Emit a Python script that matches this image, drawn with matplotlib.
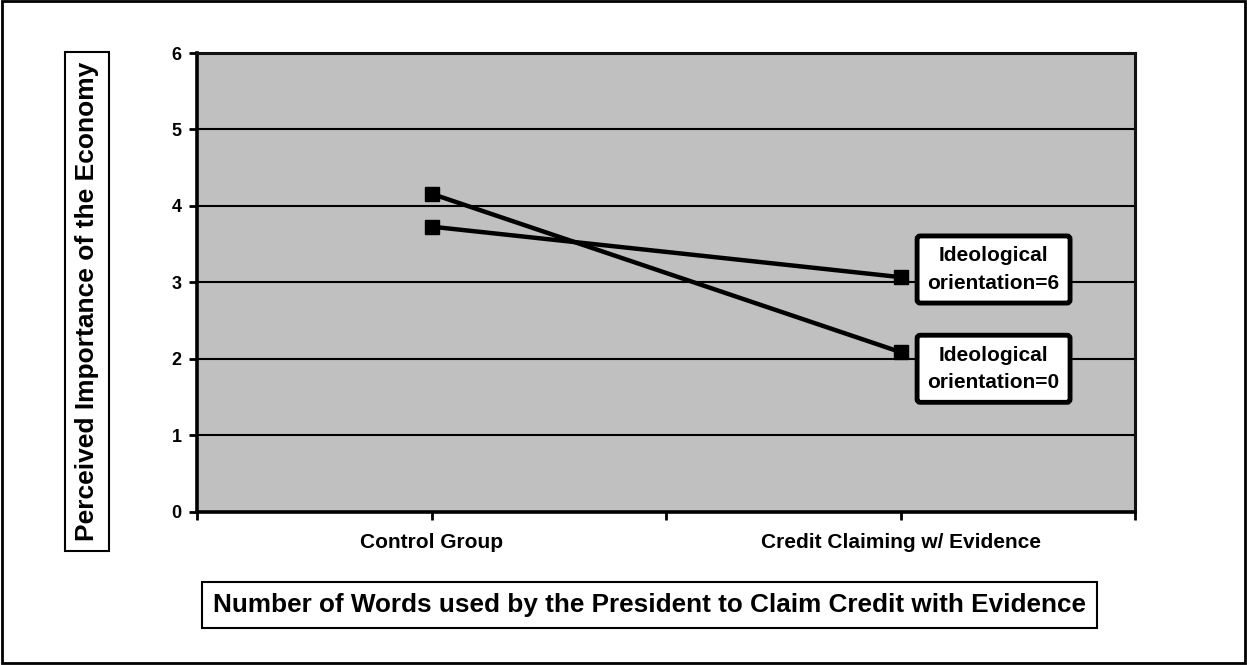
import matplotlib.pyplot as plt
from matplotlib.patches import Rectangle

plt.rcParams['font.family'] = ['Liberation Sans', 'DejaVu Sans']
plt.rcParams['font.weight'] = 'bold'

# Mean perceived importance by condition, for two ideology levels
conditions = ['Control Group', 'Credit Claiming w/ Evidence']
ideology_6 = [3.73, 3.07]
ideology_0 = [4.16, 2.09]
series_labels = ['Ideological\norientation=6', 'Ideological\norientation=0']
y_ticks = [0, 1, 2, 3, 4, 5, 6]

fig = plt.figure(figsize=(12.47, 6.65), dpi=100)
ax = fig.add_axes([0.158, 0.2301, 0.7522, 0.6902])
ax.set_facecolor('#C0C0C0')

x = list(range(len(conditions)))
for vals in (ideology_6, ideology_0):
    ax.plot(x, vals, color='black', lw=3.2, marker='s', ms=10,
            markerfacecolor='black', markeredgecolor='black', zorder=3)

ax.set_xlim(-0.5, len(conditions) - 0.5)
ax.set_ylim(y_ticks[0], y_ticks[-1])
ax.set_yticks(y_ticks)
ax.set_yticklabels([str(t) for t in y_ticks], fontsize=13, fontweight='bold')
ax.set_xticks(x)
ax.set_xticklabels(conditions, fontsize=15, fontweight='bold')
ax.set_xticks([-0.5, 0.5, 1.5], minor=True)
ax.tick_params(axis='x', which='both', direction='out', length=6, width=2, pad=9)
ax.tick_params(axis='y', direction='out', length=6, width=2, pad=5)

for t in y_ticks[1:-1]:
    ax.axhline(t, color='black', lw=1.5, zorder=1)

for side in ['left', 'bottom']:
    ax.spines[side].set_linewidth(2.6)
for side in ['top', 'right']:
    ax.spines[side].set_linewidth(2.2)
    ax.spines[side].set_color('#111111')

# Series labels to the right of the last points
offsets = [(67, 5.5), (67, -12)]
for vals, lab, off in zip((ideology_6, ideology_0), series_labels, offsets):
    ax.annotate(lab, xy=(x[-1], vals[-1]), xytext=off,
                textcoords='offset points', ha='center', va='center',
                fontsize=15, fontweight='bold', linespacing=1.55,
                bbox=dict(boxstyle='round,pad=0.5,rounding_size=0.15',
                          fc='white', ec='black', lw=3.5), zorder=4)

# Axis titles in their own boxes
fig.text(0.0698, 0.5466, 'Perceived Importance of the Economy', rotation=90,
         ha='center', va='center', fontsize=19, fontweight='bold',
         bbox=dict(boxstyle='square,pad=0.38', fc='white', ec='black', lw=1.5))
fig.text(0.5208, 0.0902,
         'Number of Words used by the President to Claim Credit with Evidence',
         ha='center', va='center', fontsize=18.8, fontweight='bold',
         bbox=dict(boxstyle='square,pad=0.42', fc='white', ec='black', lw=1.5))

fig.patches.append(Rectangle((0.002, 0.003), 0.996, 0.995, transform=fig.transFigure,
                             fill=False, ec='black', lw=2))

fig.savefig('out.png', dpi=100)
